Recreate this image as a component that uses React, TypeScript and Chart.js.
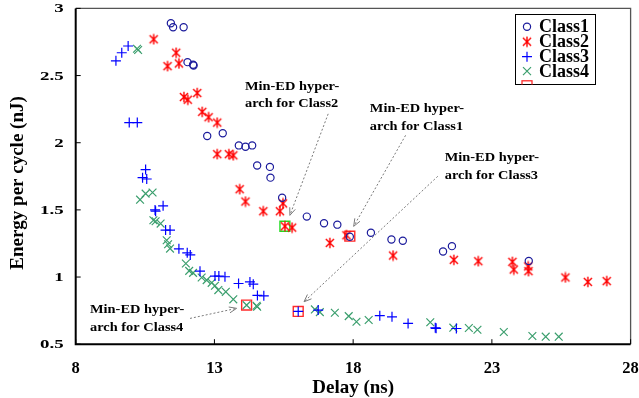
import React, { useEffect, useRef } from "react";
import { Chart, registerables } from "chart.js";

Chart.register(...registerables);

// ---------------- data ----------------
const class1X = [11.43, 11.51, 11.89, 12.03, 12.23, 12.25, 12.74, 13.3, 13.88, 14.12, 14.36, 14.54, 15.0, 15.02, 15.44, 16.33, 16.95, 17.43, 17.88, 18.64, 19.38, 19.79, 21.24, 21.56, 24.33];
const class1Y = [2.89, 2.86, 2.86, 2.6, 2.58, 2.575, 2.05, 2.07, 1.98, 1.97, 1.98, 1.83, 1.82, 1.74, 1.59, 1.45, 1.4, 1.39, 1.3, 1.33, 1.28, 1.27, 1.19, 1.23, 1.12];

const class2X = [10.81, 11.62, 11.31, 11.72, 11.9, 12.04, 12.38, 12.56, 12.79, 13.1, 13.1, 13.52, 13.68, 13.91, 14.12, 14.76, 15.36, 15.47, 15.54, 15.8, 17.16, 17.76, 19.44, 21.63, 22.51, 23.74, 23.79, 24.31, 24.32, 25.65, 26.46, 27.14];
const class2Y = [2.77, 2.67, 2.57, 2.59, 2.34, 2.32, 2.37, 2.23, 2.19, 2.15, 1.915, 1.915, 1.906, 1.654, 1.562, 1.49, 1.49, 1.548, 1.378, 1.368, 1.254, 1.311, 1.16, 1.128, 1.118, 1.113, 1.056, 1.079, 1.044, 0.997, 0.964, 0.97];

const class3X = [9.45, 9.66, 9.89, 9.93, 10.22, 10.52, 10.41, 10.56, 10.86, 10.88, 11.15, 11.24, 11.4, 11.72, 12.02, 12.13, 12.48, 13.02, 13.16, 13.38, 13.87, 14.28, 14.4, 14.55, 14.78, 16.02, 16.74, 18.96, 19.4, 19.98, 20.96, 20.99, 21.72];
const class3Y = [2.61, 2.67, 2.72, 2.15, 2.15, 1.8, 1.74, 1.73, 1.5, 1.49, 1.53, 1.35, 1.35, 1.21, 1.18, 1.165, 1.044, 1.007, 1.007, 1.002, 0.952, 0.964, 0.947, 0.863, 0.86, 0.744, 0.754, 0.712, 0.704, 0.655, 0.622, 0.618, 0.617];

const class4X = [10.21, 10.25, 10.32, 10.52, 10.77, 10.8, 10.88, 11.06, 11.28, 11.33, 11.4, 11.97, 12.09, 12.23, 12.54, 12.72, 12.9, 13.02, 13.14, 13.41, 13.68, 14.16, 14.52, 14.54, 16.62, 16.8, 17.34, 17.84, 18.12, 18.56, 20.78, 21.61, 22.17, 22.48, 23.43, 24.46, 24.94, 25.41];
const class4Y = [2.7, 2.69, 1.576, 1.621, 1.629, 1.423, 1.415, 1.398, 1.274, 1.244, 1.212, 1.101, 1.046, 1.031, 0.997, 0.977, 0.957, 0.935, 0.903, 0.89, 0.834, 0.791, 0.786, 0.779, 0.759, 0.739, 0.734, 0.709, 0.667, 0.68, 0.663, 0.623, 0.621, 0.608, 0.591, 0.561, 0.556, 0.556];

// Min-ED hyper-architecture points (Class1, Class2, Class3, Class4)
const minEdX = [17.88, 15.54, 16.02, 14.16];
const minEdY = [1.304, 1.378, 0.744, 0.791];

const legendLabels = ["Class1", "Class2", "Class3", "Class4"];
const xTickValues = [8, 13, 18, 23, 28];
const yTickValues = [0.5, 1, 1.5, 2, 2.5, 3];
const xTitle = "Delay (ns)";
const yTitle = "Energy per cycle (nJ)";

// annotation texts with anchor (data coords) and arrow start/end (data coords)
const annotLines = [
  ["Min-ED hyper-", "arch for Class2"],
  ["Min-ED hyper-", "arch for Class1"],
  ["Min-ED hyper-", "arch for Class3"],
  ["Min-ED hyper-", "arch for Class4"],
];
const annotTextX = [14.1, 18.6, 21.3, 8.515];
const annotTextY = [2.396, 2.225, 1.861, 0.73];
const arrowFromX = [17.1, 19.89, 21.05, 12.12];
const arrowFromY = [2.215, 2.055, 1.75, 0.692];
const arrowToX = [15.72, 18.02, 16.23, 13.8];
const arrowToY = [1.46, 1.378, 0.816, 0.767];

// ---------------- styles ----------------
const FONT = '"Liberation Serif", "Times New Roman", serif';
const C1 = "#1c1c9c";
const C2 = "#ff0000";
const C3 = "#0000ff";
const C4 = "#3c9f6e";
const SQ = "#ff2a2a";
const SQ_GREEN = "#22dd22";

const toPts = (xs: number[], ys: number[]) => xs.map((x, i) => ({ x, y: ys[i] }));

function makeAsterisk(color: string, size: number) {
  const c = document.createElement("canvas");
  c.width = size;
  c.height = size;
  const g = c.getContext("2d")!;
  g.strokeStyle = color;
  g.lineWidth = 1.4;
  const m = size / 2;
  const r = size / 2 - 0.8;
  g.beginPath();
  g.moveTo(m, m - r);
  g.lineTo(m, m + r);
  const d = r * 0.78;
  g.moveTo(m - d, m - d);
  g.lineTo(m + d, m + d);
  g.moveTo(m + d, m - d);
  g.lineTo(m - d, m + d);
  g.stroke();
  return c;
}

function drawMarker(ctx: CanvasRenderingContext2D, kind: number, x: number, y: number, star: HTMLCanvasElement) {
  ctx.save();
  ctx.lineWidth = 1.2;
  if (kind === 0) {
    ctx.strokeStyle = C1;
    ctx.beginPath();
    ctx.arc(x, y, 3.6, 0, Math.PI * 2);
    ctx.stroke();
  } else if (kind === 1) {
    ctx.drawImage(star, x - star.width / 2, y - star.height / 2);
  } else if (kind === 2) {
    ctx.strokeStyle = C3;
    ctx.beginPath();
    ctx.moveTo(x - 5, y);
    ctx.lineTo(x + 5, y);
    ctx.moveTo(x, y - 5);
    ctx.lineTo(x, y + 5);
    ctx.stroke();
  } else if (kind === 3) {
    ctx.strokeStyle = C4;
    ctx.beginPath();
    ctx.moveTo(x - 4, y - 4);
    ctx.lineTo(x + 4, y + 4);
    ctx.moveTo(x + 4, y - 4);
    ctx.lineTo(x - 4, y + 4);
    ctx.stroke();
  }
  ctx.restore();
}

function stretchedText(
  ctx: CanvasRenderingContext2D,
  text: string,
  x: number,
  y: number,
  size: number,
  sx: number,
  align: CanvasTextAlign,
  baseline: CanvasTextBaseline
) {
  ctx.save();
  ctx.font = `bold ${size}px ${FONT}`;
  ctx.fillStyle = "#000";
  ctx.translate(x, y);
  ctx.scale(sx, 1);
  ctx.textAlign = align;
  ctx.textBaseline = baseline;
  ctx.fillText(text, 0, 0);
  ctx.restore();
}

function drawArrow(ctx: CanvasRenderingContext2D, x1: number, y1: number, x2: number, y2: number) {
  ctx.save();
  ctx.strokeStyle = "#7a7a7a";
  ctx.lineWidth = 1;
  ctx.setLineDash([2, 2]);
  ctx.beginPath();
  ctx.moveTo(x1, y1);
  ctx.lineTo(x2, y2);
  ctx.stroke();
  ctx.setLineDash([]);
  const ang = Math.atan2(y2 - y1, x2 - x1);
  const L = 8;
  const w = 0.38;
  ctx.beginPath();
  ctx.moveTo(x2 - L * Math.cos(ang - w), y2 - L * Math.sin(ang - w));
  ctx.lineTo(x2, y2);
  ctx.lineTo(x2 - L * Math.cos(ang + w), y2 - L * Math.sin(ang + w));
  ctx.stroke();
  ctx.restore();
}

export default function App() {
  const ref = useRef<HTMLCanvasElement | null>(null);

  useEffect(() => {
    const canvas = ref.current;
    if (!canvas) return;
    const star = makeAsterisk(C2, 12);

    const decor = {
      id: "decor",
      afterDatasetsDraw(chart: any) {
        const ctx: CanvasRenderingContext2D = chart.ctx;
        const xs = chart.scales.x;
        const ys = chart.scales.y;
        const a = chart.chartArea;

        // frame
        ctx.save();
        ctx.strokeStyle = "#555";
        ctx.lineWidth = 1.3;
        ctx.beginPath();
        ctx.moveTo(a.left, a.top);
        ctx.lineTo(a.right, a.top);
        ctx.lineTo(a.right, a.bottom);
        ctx.stroke();
        ctx.strokeStyle = "#000";
        ctx.lineWidth = 2;
        ctx.beginPath();
        ctx.moveTo(a.left, a.top);
        ctx.lineTo(a.left, a.bottom);
        ctx.lineTo(a.right, a.bottom);
        ctx.stroke();
        // inward ticks
        ctx.lineWidth = 1;
        ctx.beginPath();
        xTickValues.forEach((v) => {
          const px = xs.getPixelForValue(v);
          ctx.moveTo(px, a.bottom);
          ctx.lineTo(px, a.bottom - 5);
        });
        yTickValues.forEach((v) => {
          const py = ys.getPixelForValue(v);
          ctx.moveTo(a.left, py);
          ctx.lineTo(a.left + 5, py);
        });
        ctx.stroke();
        ctx.restore();

        // tick labels
        xTickValues.forEach((v) => {
          stretchedText(ctx, String(v), xs.getPixelForValue(v), 369, 16.5, 1, "center", "middle");
        });
        yTickValues.forEach((v) => {
          stretchedText(ctx, String(v), a.left - 12, ys.getPixelForValue(v) + 0.5, 13.5, 1.4, "right", "middle");
        });

        // axis titles
        stretchedText(ctx, xTitle, (a.left + a.right) / 2, 388, 19, 1, "center", "middle");
        ctx.save();
        ctx.translate(18, 183);
        ctx.rotate(-Math.PI / 2);
        stretchedText(ctx, yTitle, 0, 0, 19, 1, "center", "middle");
        ctx.restore();

        // annotations
        annotLines.forEach((lines, i) => {
          const tx = xs.getPixelForValue(annotTextX[i]);
          const ty = ys.getPixelForValue(annotTextY[i]);
          stretchedText(ctx, lines[0], tx, ty, 12, 1.2, "left", "alphabetic");
          stretchedText(ctx, lines[1], tx, ty + 17.5, 12, 1.2, "left", "alphabetic");
          drawArrow(
            ctx,
            xs.getPixelForValue(arrowFromX[i]),
            ys.getPixelForValue(arrowFromY[i]),
            xs.getPixelForValue(arrowToX[i]),
            ys.getPixelForValue(arrowToY[i])
          );
        });

        // legend
        const lx = 515.5, ly = 14.5, lw = 80, lh = 70;
        ctx.save();
        ctx.fillStyle = "#fff";
        ctx.fillRect(lx, ly, lw, lh);
        ctx.strokeStyle = "#000";
        ctx.lineWidth = 1;
        ctx.strokeRect(lx, ly, lw, lh);
        const rows = [26.7, 41.7, 56.7, 71.2];
        legendLabels.forEach((lab, i) => {
          drawMarker(ctx, i, 527, rows[i], star);
          stretchedText(ctx, lab, 539, rows[i] + 1, 18, 1, "left", "middle");
        });
        ctx.beginPath();
        ctx.rect(lx, ly, lw, lh);
        ctx.clip();
        ctx.strokeStyle = SQ;
        ctx.lineWidth = 1.3;
        ctx.strokeRect(522, 80.8, 10, 10);
        ctx.restore();
      },
    };

    const chart = new Chart(canvas, {
      type: "scatter",
      data: {
        datasets: [
          {
            label: legendLabels[0],
            data: toPts(class1X, class1Y),
            pointStyle: "circle",
            pointRadius: 3.6,
            borderColor: C1,
            backgroundColor: "rgba(0,0,0,0)",
            pointBorderWidth: 1.2,
          },
          {
            label: legendLabels[1],
            data: toPts(class2X, class2Y),
            pointStyle: star as any,
            pointRadius: 5,
            borderColor: C2,
            backgroundColor: C2,
          },
          {
            label: legendLabels[2],
            data: toPts(class3X, class3Y),
            pointStyle: "cross",
            pointRadius: 5,
            borderColor: C3,
            backgroundColor: C3,
            pointBorderWidth: 1.2,
          },
          {
            label: legendLabels[3],
            data: toPts(class4X, class4Y),
            pointStyle: "crossRot",
            pointRadius: 5.5,
            borderColor: C4,
            backgroundColor: C4,
            pointBorderWidth: 1.2,
          },
          {
            label: "Min-ED",
            data: toPts(minEdX, minEdY),
            pointStyle: "rect",
            pointRadius: 7,
            borderColor: [SQ, SQ_GREEN, SQ, SQ],
            backgroundColor: "rgba(0,0,0,0)",
            pointBorderWidth: 1.4,
          },
        ],
      },
      options: {
        animation: false,
        responsive: false,
        maintainAspectRatio: false,
        layout: { padding: { left: 0, right: 8, top: 7.7, bottom: 0 } },
        plugins: { legend: { display: false }, tooltip: { enabled: false } },
        scales: {
          x: {
            type: "linear",
            min: 8,
            max: 28,
            ticks: { display: false },
            grid: { display: false },
            border: { display: false },
            afterFit: (s: any) => {
              s.height = 53.8;
            },
          },
          y: {
            type: "linear",
            min: 0.5,
            max: 3,
            ticks: { display: false },
            grid: { display: false },
            border: { display: false },
            afterFit: (s: any) => {
              s.width = 75.7;
            },
          },
        },
      },
      plugins: [decor],
    });
    return () => chart.destroy();
  }, []);

  return (
    <div style={{ position: "absolute", left: 0, top: 0, width: 639, height: 398, background: "#fff" }}>
      <canvas ref={ref} width={639} height={398} style={{ width: 639, height: 398, display: "block" }} />
    </div>
  );
}
